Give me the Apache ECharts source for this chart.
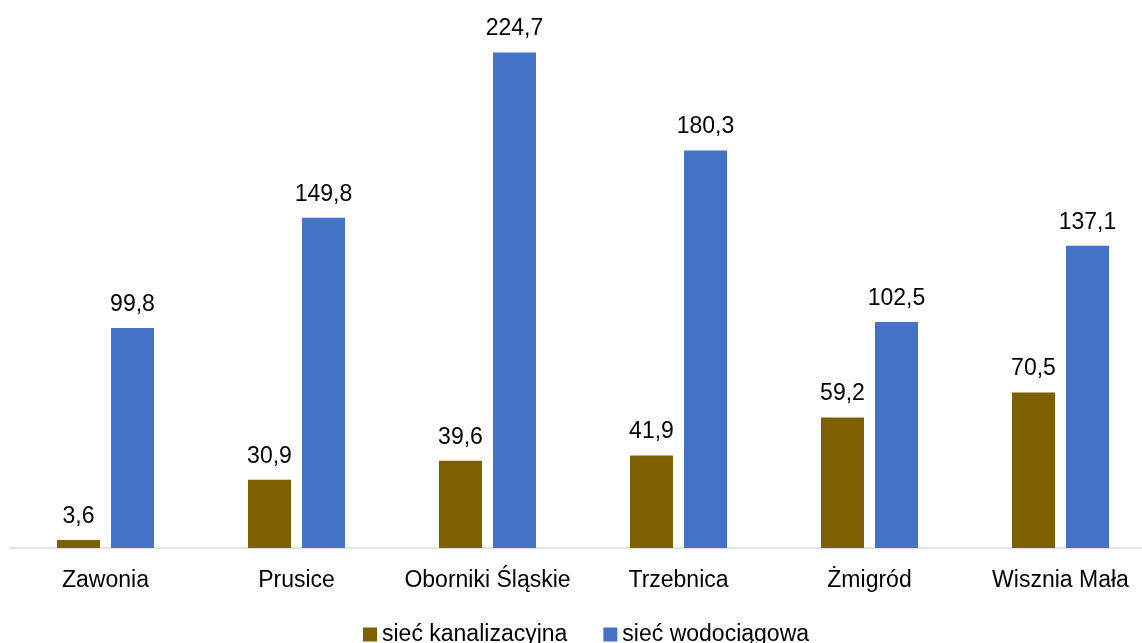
<!DOCTYPE html>
<html>
<head>
<meta charset="utf-8">
<script src="https://cdn.jsdelivr.net/npm/echarts@6/dist/echarts.min.js"></script>
<style>html,body{margin:0;padding:0;background:#fff}#c{width:1142px;height:643px}</style>
</head>
<body>
<div id="c"></div>
<script>
const categories = ['Zawonia', 'Prusice', 'Oborniki Śląskie', 'Trzebnica', 'Żmigród', 'Wisznia Mała'];
const seriesNames = ['sieć kanalizacyjna', 'sieć wodociągowa'];
const kanalizacyjna = [3.6, 30.9, 39.6, 41.9, 59.2, 70.5];
const wodociagowa = [99.8, 149.8, 224.7, 180.3, 102.5, 137.1];

const FONT = '"Liberation Sans", Arial, sans-serif';
const chart = echarts.init(document.getElementById('c'));
const fmt = p => p.value.toFixed(1).replace('.', ',');
const labelStyle = { show: true, position: 'top', distance: 12, fontFamily: FONT, fontSize: 23, color: '#000', formatter: fmt };
chart.setOption({
  animation: false,
  textStyle: { fontFamily: FONT },
  grid: { left: 10, right: -14, top: 18.8, bottom: 95, containLabel: false, outerBoundsMode: 'none' },
  legend: {
    left: 358, top: 618, itemWidth: 14, itemHeight: 14, itemGap: 36,
    icon: 'rect',
    textStyle: { fontFamily: FONT, fontSize: 23, color: '#000' },
    data: seriesNames
  },
  xAxis: {
    type: 'category', data: categories,
    axisLine: { lineStyle: { color: '#d9d9d9', width: 1.5 } },
    axisTick: { show: false },
    axisLabel: { fontFamily: FONT, fontSize: 23, color: '#000', margin: 21, interval: 0 }
  },
  yAxis: { type: 'value', min: 0, max: 240, show: false, splitLine: { show: false } },
  series: [
    { name: seriesNames[0], type: 'bar', data: kanalizacyjna, barWidth: 43, barGap: '25.6%', itemStyle: { color: '#7f6000' }, label: labelStyle },
    { name: seriesNames[1], type: 'bar', data: wodociagowa, barWidth: 43, barGap: '25.6%', itemStyle: { color: '#4472c4' }, label: labelStyle }
  ]
});
</script>
</body>
</html>
